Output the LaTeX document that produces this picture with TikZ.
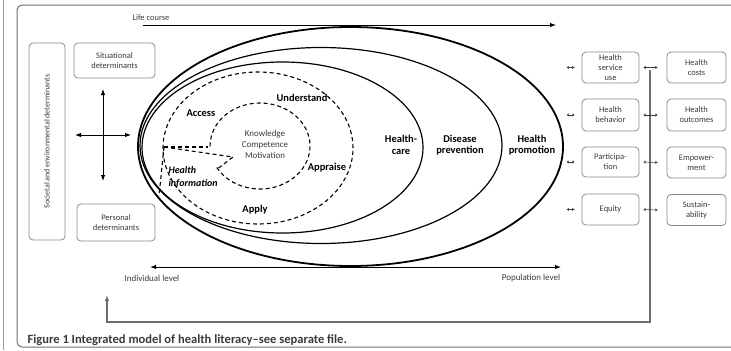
\documentclass[tikz,border=0pt]{standalone}
\usepackage{fontspec}
\setmainfont{Carlito}
\usetikzlibrary{arrows.meta}
\definecolor{boxgray}{HTML}{8A8A8A}
\definecolor{txtgray}{HTML}{3A3A3A}
\definecolor{framegray}{HTML}{6E6E6E}
\definecolor{sidegreen}{HTML}{7DB37D}
\begin{document}
\begin{tikzpicture}[x=1bp,y=-1bp,
	dbox/.style={draw=boxgray,line width=0.8bp,rounded corners=4bp,align=center,text=txtgray,font=\fontsize{8.5}{10}\selectfont,inner sep=1bp},
	lbl/.style={font=\fontsize{10.5}{11.5}\selectfont\bfseries,align=center},
	small/.style={font=\fontsize{9}{10}\selectfont,text=txtgray},
	dashring/.style={dash pattern=on 4bp off 3bp,line width=1.1bp},
	sml/.style={{Stealth[length=2.5bp,width=3bp]}-{Stealth[length=2.5bp,width=3bp]},line width=0.6bp,draw=txtgray},
	big/.style={line width=1bp,-{Latex[length=6bp,width=4.5bp]}},
	bigboth/.style={line width=1bp,{Latex[length=6bp,width=4.5bp]}-{Latex[length=6bp,width=4.5bp]}}]
	\useasboundingbox (0,0) rectangle (731,350);
	\draw[sidegreen,line width=1.5bp] (3.5,0) -- (3.5,350);
	\draw[framegray,line width=1bp,rounded corners=5bp] (17,5) rectangle (745,347);
	\node[small,font=\fontsize{8.5}{10}\selectfont] (life) at (151,18) {Life course};
	\coordinate (lcs) at (143,25);
	\coordinate (lce) at (556,25);
	\draw[big] (lcs) -- (lce);
	\node[dbox,rotate=90,minimum width=197bp,minimum height=36bp,font=\fontsize{8}{9}\selectfont] (soc) at (47,141.5) {Societal and environmental determinants};
	\node[dbox,minimum width=81bp,minimum height=35bp] (sit) at (114.5,60.5) {Situational\\determinants};
	\node[dbox,minimum width=78bp,minimum height=37bp] (pers) at (116,222.5) {Personal\\determinants};
	\coordinate (cu) at (103,89);
	\coordinate (cd) at (103,181);
	\coordinate (cl) at (75,135);
	\coordinate (cr) at (131,135);
	\draw[bigboth] (cu) -- (cd);
	\draw[bigboth] (cl) -- (cr);
	\draw[line width=1.8bp] (350.5,146.5) ellipse [x radius=212.5bp, y radius=119.5bp];
	\draw[line width=1.2bp] (321,145.5) ellipse [x radius=181bp, y radius=98bp];
	\draw[line width=1.2bp] (282.5,147.5) ellipse [x radius=140.5bp, y radius=85.5bp];
	\draw[dashring] (258,148) ellipse [x radius=95bp, y radius=76bp];
	\draw[dashring] (260,146) ++(210:50bp and 43bp) arc [start angle=210, end angle=541, x radius=50bp, y radius=43bp];
	\coordinate (hi) at (164,147);
	\coordinate (hk) at (208,147);
	\coordinate (hm) at (233,157);
	\coordinate (hb) at (216,170);
	\coordinate (hd) at (159,196);
	\draw[dashring] (hi) -- (hk);
	\draw[dashring] (hi) -- (hm) -- (hb);
	\draw[dashring] (hi) -- (hd);
	\node[lbl] (access) at (201,113) {Access};
	\node[lbl] (underst) at (302,98) {Understand};
	\node[lbl] (apprai) at (327,168) {Appraise};
	\node[lbl] (apply) at (255,210) {Apply};
	\node[lbl,font=\fontsize{10}{12.5}\selectfont\bfseries\itshape,align=left,anchor=west] (hinfo) at (165,177) {Health\\information};
	\node[align=center,text=txtgray,font=\fontsize{9}{11}\selectfont] (kcm) at (265,144) {Knowledge\\Competence\\Motivation};
	\node[lbl] (hcare) at (401,145) {Health-\\care};
	\node[lbl] (dprev) at (460,145) {Disease\\prevention};
	\node[lbl] (hprom) at (532,145) {Health\\promotion};
	\node[dbox,minimum width=57bp,minimum height=31bp] (use) at (610.5,67.5) {Health\\service\\use};
	\node[dbox,minimum width=57bp,minimum height=32bp] (behav) at (610.5,115) {Health\\behavior};
	\node[dbox,minimum width=57bp,minimum height=30bp] (part) at (610.5,162) {Participa-\\tion};
	\node[dbox,minimum width=57bp,minimum height=31bp] (equi) at (610.5,209.5) {Equity};
	\node[dbox,minimum width=59bp,minimum height=31bp] (cost) at (696.5,67.5) {Health\\costs};
	\node[dbox,minimum width=59bp,minimum height=32bp] (outc) at (696.5,115) {Health\\outcomes};
	\node[dbox,minimum width=59bp,minimum height=31bp] (empo) at (696.5,162.5) {Empower-\\ment};
	\node[dbox,minimum width=59bp,minimum height=31bp] (sust) at (696.5,210) {Sustain-\\ability};
	\draw[sml] ([xshift=-15bp]use.west) -- ([xshift=-7bp]use.west);
	\draw[sml] ([xshift=-15bp]behav.west) -- ([xshift=-7bp]behav.west);
	\draw[sml] ([xshift=-15bp]part.west) -- ([xshift=-7bp]part.west);
	\draw[sml] ([xshift=-15bp]equi.west) -- ([xshift=-7bp]equi.west);
	\coordinate (fbtop) at (650,70);
	\coordinate (fbcorner) at (650,322);
	\coordinate (fbend) at (107,295);
	\draw[framegray,line width=1.4bp,-{Latex[length=6bp,width=4.5bp]}] (fbtop) -- (fbcorner) -| (fbend);
	\draw[sml] ([xshift=4bp]use.east) -- ([xshift=-9bp]cost.west);
	\draw[sml] ([xshift=4bp]behav.east) -- ([xshift=-9bp]outc.west);
	\draw[sml] ([xshift=4bp]part.east) -- ([xshift=-9bp]empo.west);
	\draw[sml] ([xshift=4bp]equi.east) -- ([xshift=-9bp]sust.west);
	\coordinate (indiv) at (150,267);
	\coordinate (popul) at (561,267);
	\draw[bigboth] (indiv) -- (popul);
	\node[small] (indl) at (152,278) {Individual level};
	\node[small] (popl) at (531,278) {Population level};
	\node[anchor=west,font=\fontsize{12.6}{14}\selectfont\bfseries,text=txtgray] (cap) at (24,340) {Figure 1 Integrated model of health literacy–see separate file.};
\end{tikzpicture}
\end{document}
